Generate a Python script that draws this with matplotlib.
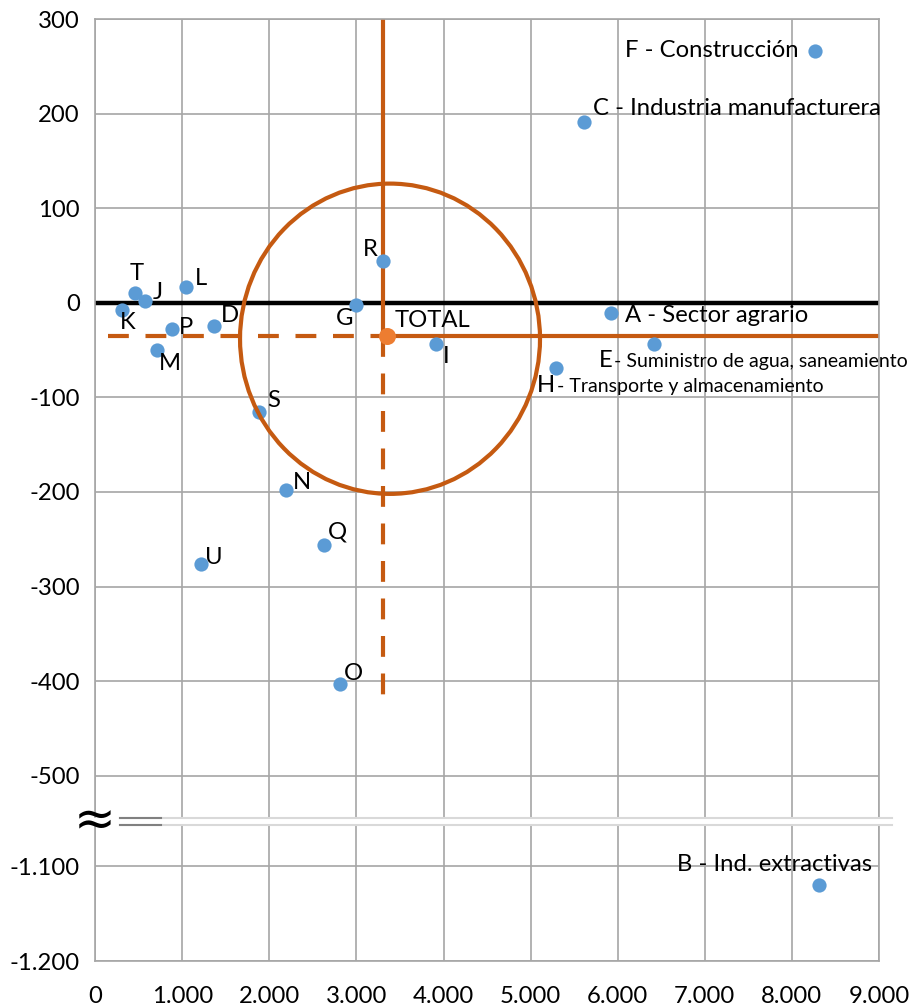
import matplotlib
matplotlib.use('Agg')
import matplotlib.pyplot as plt
from matplotlib.patches import Ellipse
from matplotlib.lines import Line2D

plt.rcParams['font.family'] = ['Lato', 'DejaVu Sans']

# sector data (x, y)
codes = ['A', 'B', 'C', 'D', 'E', 'F', 'G', 'H', 'I', 'J', 'K',
         'L', 'M', 'N', 'O', 'P', 'Q', 'R', 'S', 'T', 'U']
names = ['Sector agrario', 'Ind. extractivas', 'Industria manufacturera', '',
         'Suministro de agua, saneamiento', 'Construcción', '',
         'Transporte y almacenamiento', '', '', '', '', '', '', '', '', '',
         '', '', '', '']
x_vals = [5923, 8315, 5613, 1369, 6420, 8269, 2995, 5292, 3910, 573, 305,
          1044, 707, 2192, 2812, 879, 2628, 3309, 1885, 458, 1212]
y_vals = [-11, -1120, 191, -24, -44, 266, -2, -69, -44, 2, -8,
          17, -50, -198, -403, -28, -256, 44, -115, 10, -276]

total_x = 3348
total_y = -35
cross_x = 3311
cross_y = -35
ring_x = 3386
ring_y = -38
ring_rx = 1722
ring_ry = 164
dash_x0 = 148
dash_y0 = -431

x_ticks = [0, 1000, 2000, 3000, 4000, 5000, 6000, 7000, 8000, 9000]
x_labels = ['0', '1.000', '2.000', '3.000', '4.000', '5.000', '6.000', '7.000', '8.000', '9.000']
y_ticks_top = [300, 200, 100, 0, -100, -200, -300, -400, -500]
y_labels_top = ['300', '200', '100', '0', '-100', '-200', '-300', '-400', '-500']
y_ticks_bot = [-1100, -1200]
y_labels_bot = ['-1.100', '-1.200']

# label placement: offset in pixels, horizontal alignment
place = {'A': (14, -2, 'left'), 'B': (53, 21, 'right'), 'C': (9, 14, 'left'),
         'D': (7, 10, 'left'), 'F': (-17, 1, 'right'), 'G': (-3, -14, 'right'),
         'I': (7, -12, 'left'), 'J': (8, 8, 'left'), 'K': (-2, -12, 'left'),
         'L': (9, 8, 'left'), 'M': (2, -13, 'left'), 'N': (7, 8, 'left'),
         'O': (4, 11, 'left'), 'P': (7, 2, 'left'), 'Q': (4, 13, 'left'),
         'R': (-6, 12, 'right'), 'S': (8, 11, 'left'), 'T': (2, 20, 'center'),
         'U': (4, 6, 'left')}
# two-size labels: letter offset, text offset, baseline dy
split = {'E': (-55, -40, -23), 'H': (-19, 1, -24)}

blue = '#5B9BD5'
orange = '#C55A11'
grid = '#A6A6A6'
fs = 17.2
fs_small = 14

fig = plt.figure(figsize=(9.17, 10.08), dpi=100)
left, width = 95.1 / 917, 783.9 / 917
ax = fig.add_axes([left, 1 - 817 / 1008, width, 798 / 1008])
ax2 = fig.add_axes([left, 1 - 961 / 1008, width, 135 / 1008])

ax.set_ylim(300 - 798 / 0.946, 300)
ax2.set_ylim(-1200, -1200 + 135 / 0.946)

for a in (ax, ax2):
    a.set_xlim(0, 9000)
    a.set_xticks(x_ticks)
    a.grid(True, color=grid, lw=1.2)
    a.set_axisbelow(True)
    a.tick_params(length=0, labelsize=fs, colors='black', pad=11)
    for s in ['left', 'right', 'top', 'bottom']:
        a.spines[s].set_color(grid)
        a.spines[s].set_linewidth(1.2)

ax.spines['bottom'].set_visible(False)
ax2.spines['top'].set_visible(False)
ax.set_yticks(y_ticks_top)
ax.set_yticklabels(y_labels_top)
ax.tick_params(axis='x', labelbottom=False)
ax2.set_yticks(y_ticks_bot)
ax2.set_yticklabels(y_labels_bot)
ax2.set_xticklabels(x_labels)
ax2.tick_params(axis='x', pad=18)

# reference lines
ax.axhline(0, color='black', lw=3.2, zorder=2)
ax.plot([cross_x, cross_x], [300, cross_y], color=orange, lw=3, zorder=2)
ax.plot([cross_x, cross_x], [cross_y, dash_y0], color=orange, lw=3,
        dashes=(5, 4), zorder=2)
ax.plot([dash_x0, cross_x], [cross_y, cross_y], color=orange, lw=3,
        dashes=(5, 4), zorder=2)
ax.plot([cross_x, 9000], [cross_y, cross_y], color=orange, lw=3, zorder=2)

for a in (ax, ax2):
    a.scatter(x_vals, y_vals, s=105, color=blue, zorder=3, linewidths=0)
    for c, n, xv, yv in zip(codes, names, x_vals, y_vals):
        if c in split:
            dl, dt, dy = split[c]
            a.annotate(c, (xv, yv), xytext=(dl, dy), textcoords='offset pixels',
                       ha='left', va='baseline', fontsize=fs, zorder=5)
            a.annotate('- ' + n, (xv, yv), xytext=(dt, dy), textcoords='offset pixels',
                       ha='left', va='baseline', fontsize=fs_small, zorder=5)
        else:
            dx, dy, ha = place[c]
            txt = c + ' - ' + n if n else c
            a.annotate(txt, (xv, yv), xytext=(dx, dy), textcoords='offset pixels',
                       ha=ha, va='center', fontsize=fs, zorder=5)

ax.add_patch(Ellipse((ring_x, ring_y), 2 * ring_rx, 2 * ring_ry, fill=False,
                     ec=orange, lw=3, zorder=4))
ax.scatter([total_x], [total_y], s=150, color='#ED7D31', zorder=5, linewidths=0)
ax.annotate('TOTAL', (total_x, total_y), xytext=(8, 15), textcoords='offset pixels',
            ha='left', va='center', fontsize=fs, zorder=5)

# axis break marks
for yy in (818.3, 825):
    fig.add_artist(Line2D([120 / 917, 892 / 917], [1 - yy / 1008, 1 - yy / 1008],
                          color='#D9D9D9', lw=1.5))
    fig.add_artist(Line2D([120 / 917, 161 / 917], [1 - yy / 1008, 1 - yy / 1008],
                          color='#808080', lw=1.5))
fig.text(95 / 917, 1 - 821 / 1008, '≈', ha='center', va='center', fontsize=36,
         family='DejaVu Sans')

fig.savefig('out.png', dpi=100)
